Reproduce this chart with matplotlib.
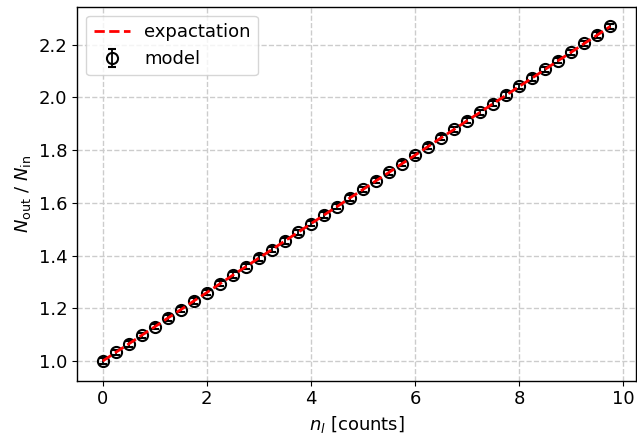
import matplotlib
matplotlib.use("Agg")
import matplotlib.pyplot as plt

# counts n_l (x axis)
n_l = [0.0, 0.25, 0.5, 0.75, 1.0, 1.25, 1.5, 1.75, 2.0, 2.25,
       2.5, 2.75, 3.0, 3.25, 3.5, 3.75, 4.0, 4.25, 4.5, 4.75,
       5.0, 5.25, 5.5, 5.75, 6.0, 6.25, 6.5, 6.75, 7.0, 7.25,
       7.5, 7.75, 8.0, 8.25, 8.5, 8.75, 9.0, 9.25, 9.5, 9.75]

# model ratio N_out / N_in
model = [1.000, 1.033, 1.065, 1.098, 1.130, 1.163, 1.195, 1.228, 1.260, 1.293,
         1.326, 1.358, 1.391, 1.423, 1.456, 1.488, 1.521, 1.554, 1.586, 1.619,
         1.651, 1.684, 1.716, 1.749, 1.781, 1.814, 1.847, 1.879, 1.912, 1.944,
         1.977, 2.009, 2.042, 2.074, 2.107, 2.140, 2.172, 2.205, 2.237, 2.270]

# model uncertainty
model_err = [0.01, 0.01, 0.01, 0.01, 0.01, 0.01, 0.01, 0.01, 0.01, 0.01,
             0.01, 0.01, 0.01, 0.01, 0.01, 0.01, 0.01, 0.01, 0.01, 0.01,
             0.01, 0.01, 0.01, 0.01, 0.01, 0.01, 0.01, 0.01, 0.01, 0.01,
             0.01, 0.01, 0.01, 0.01, 0.01, 0.01, 0.01, 0.01, 0.01, 0.01]

# expected ratio
expected = [1.000, 1.033, 1.065, 1.098, 1.130, 1.163, 1.195, 1.228, 1.260, 1.293,
            1.326, 1.358, 1.391, 1.423, 1.456, 1.488, 1.521, 1.554, 1.586, 1.619,
            1.651, 1.684, 1.716, 1.749, 1.781, 1.814, 1.847, 1.879, 1.912, 1.944,
            1.977, 2.009, 2.042, 2.074, 2.107, 2.140, 2.172, 2.205, 2.237, 2.270]

plt.rcParams["font.size"] = 13
plt.rcParams["axes.linewidth"] = 1.0

fig = plt.figure(figsize=(6.37, 4.4), dpi=100)
ax = fig.add_axes([0.1214, 0.1348, 0.8766, 0.8500])

ax.errorbar(n_l, model, yerr=model_err, fmt="o", mfc="none", mec="black",
            ecolor="black", ms=8, mew=1.5, capsize=3, elinewidth=1.3,
            label="model", zorder=2)
ax.plot(n_l, expected, "r--", lw=2, label="expactation", zorder=3)

ax.set_xlabel(r"$n_l$ [counts]")
ax.set_ylabel(r"$N_\mathrm{out}$ / $N_\mathrm{in}$")
ax.grid(ls="--", color="#cccccc", lw=1.0)
ax.set_axisbelow(True)
ax.legend(loc="upper left")

fig.savefig("out.png", dpi=100)
